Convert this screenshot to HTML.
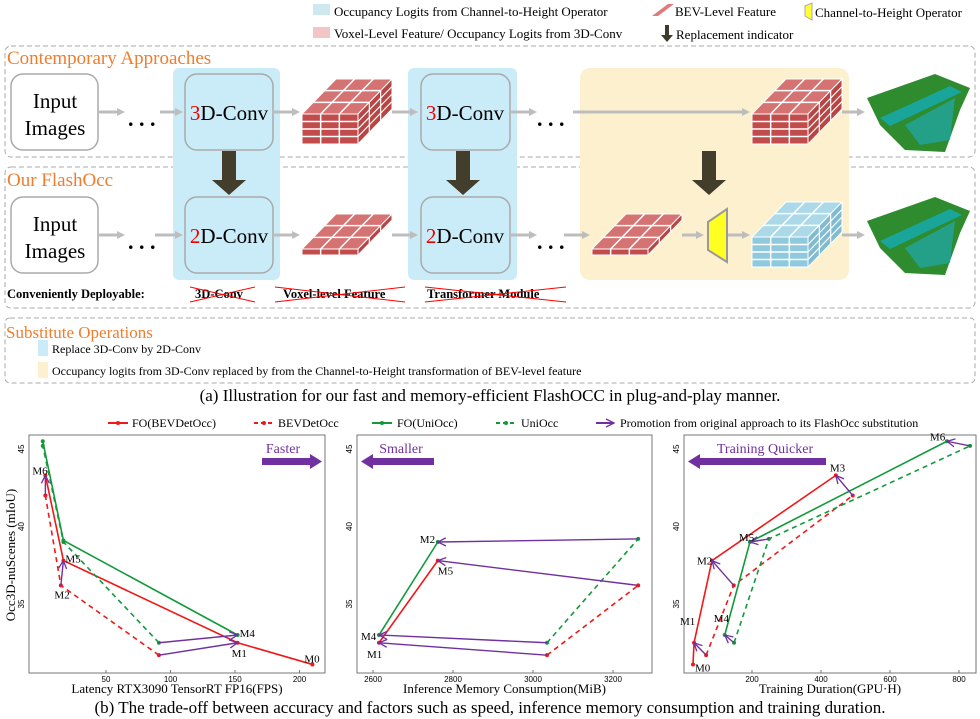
<!DOCTYPE html>
<html><head><meta charset="utf-8"><style>
html,body{margin:0;padding:0;background:#fff}
svg{display:block;font-family:"Liberation Serif",serif}
</style></head><body>
<svg id="root" width="980" height="719" viewBox="0 0 980 719" xmlns="http://www.w3.org/2000/svg">
<defs>
<marker id="gh" markerWidth="8" markerHeight="8" refX="5" refY="4" orient="auto" markerUnits="userSpaceOnUse"><path d="M0,0 L8,4 L0,8 z" fill="#bdbdbd"/></marker>
<marker id="ph" markerWidth="10" markerHeight="10" refX="9" refY="5" orient="auto" markerUnits="userSpaceOnUse"><path d="M1,1 L9,5 L1,9" fill="none" stroke="#7030a0" stroke-width="1.3"/></marker>
</defs>
<g id="diagram">
<!-- top legend -->
<g font-size="13">
<rect x="313" y="4" width="17" height="11" fill="#cfe8ef"/>
<text x="334" y="16">Occupancy Logits from Channel-to-Height Operator</text>
<rect x="313" y="27" width="17" height="11" fill="#f2c6c6"/>
<text x="334" y="38">Voxel-Level Feature/ Occupancy Logits from 3D-Conv</text>
<polygon points="652,16 668,4 674,4 658,16" fill="#e07a7a"/>
<text x="675" y="16">BEV-Level Feature</text>
<polygon points="805,6 812,3 812,20 805,16" fill="#ffff33" stroke="#aaa"/>
<text x="815" y="17">Channel-to-Height Operator</text>
<path d="M665,25 h4 v10 h4 l-6,7 l-6,-7 h4z" fill="#3f3a2a"/>
<text x="676" y="39">Replacement indicator</text>
</g>
<!-- boxes -->
<rect x="5" y="46" width="970" height="111" rx="6" fill="none" stroke="#aaa" stroke-dasharray="5,3"/>
<rect x="5" y="167" width="970" height="141" rx="6" fill="none" stroke="#aaa" stroke-dasharray="5,3"/>
<rect x="173" y="68" width="107" height="212" rx="6" fill="#c9ecf8"/>
<rect x="408" y="68" width="109" height="212" rx="6" fill="#c9ecf8"/>
<rect x="580" y="68" width="269" height="212" rx="10" fill="#fdf0cf"/>
<text x="7" y="64" font-size="19" fill="#f07d2e">Contemporary Approaches</text>
<text x="7" y="186" font-size="19" fill="#f07d2e">Our FlashOcc</text>
<g fill="#fff" stroke="#aaa" stroke-width="1.5">
<rect x="11" y="74" width="87" height="76" rx="12"/>
<rect x="11" y="197" width="87" height="76" rx="12"/>
<rect x="185" y="74" width="88" height="76" rx="12" fill="#c9ecf8"/>
<rect x="185" y="197" width="88" height="76" rx="12" fill="#c9ecf8"/>
<rect x="421" y="74" width="89" height="76" rx="12" fill="#c9ecf8"/>
<rect x="421" y="197" width="89" height="76" rx="12" fill="#c9ecf8"/>
</g>
<g font-size="21" text-anchor="middle">
<text x="55" y="108">Input</text><text x="55" y="135">Images</text>
<text x="55" y="231">Input</text><text x="55" y="258">Images</text>
<text x="229" y="120"><tspan fill="#e00">3</tspan>D-Conv</text>
<text x="229" y="243"><tspan fill="#e00">2</tspan>D-Conv</text>
<text x="465" y="120"><tspan fill="#e00">3</tspan>D-Conv</text>
<text x="465" y="243"><tspan fill="#e00">2</tspan>D-Conv</text>
</g>
<g font-size="22" font-weight="bold">
<text x="128" y="126">. . .</text><text x="128" y="249">. . .</text>
<text x="537" y="126">. . .</text><text x="537" y="249">. . .</text>
</g>
<g stroke="#bdbdbd" stroke-width="3" marker-end="url(#gh)">
<line x1="98" y1="112" x2="122" y2="112"/><line x1="160" y1="112" x2="180" y2="112"/>
<line x1="273" y1="112" x2="297" y2="112"/><line x1="392" y1="112" x2="415" y2="112"/>
<line x1="510" y1="112" x2="534" y2="112"/><line x1="573" y1="112" x2="747" y2="112"/>
<line x1="842" y1="112" x2="862" y2="112"/>
<line x1="98" y1="235" x2="122" y2="235"/><line x1="155" y1="235" x2="180" y2="235"/>
<line x1="273" y1="235" x2="297" y2="235"/><line x1="392" y1="235" x2="415" y2="235"/>
<line x1="510" y1="235" x2="534" y2="235"/><line x1="564" y1="235" x2="587" y2="235"/>
<line x1="682" y1="235" x2="701" y2="235"/><line x1="727" y1="235" x2="747" y2="235"/>
<line x1="842" y1="235" x2="862" y2="235"/>
</g>
<g fill="#433d2c">
<path d="M222,151 h14 v29 h10 l-17,15 l-17,-15 h10z"/>
<path d="M456,151 h14 v29 h10 l-17,15 l-17,-15 h10z"/>
<path d="M702,151 h14 v29 h10 l-17,15 l-17,-15 h10z"/>
</g>
<g id="cubes"></g>
<polygon points="708,222 727,209 727,262 708,250" fill="#ffff22" stroke="#999" stroke-width="2"/>
<g>
<polygon points="867,98 935,74 970,88 960,110 945,152 905,150 880,125" fill="#2e8b2e"/>
<polygon points="880,118 950,86 962,92 890,126" fill="#1aa59a"/>
<polygon points="905,125 955,98 950,140 920,145" fill="#22a5a0" opacity="0.8"/>
</g>
<g>
<polygon points="867,221 935,197 970,211 960,233 945,275 905,273 880,248" fill="#2e8b2e"/>
<polygon points="880,241 950,209 962,215 890,249" fill="#1aa59a"/>
<polygon points="905,248 955,221 950,263 920,268" fill="#22a5a0" opacity="0.8"/>
</g>
<g font-size="12.5" font-weight="bold">
<text x="7" y="298">Conveniently Deployable:</text>
<text x="195" y="298">3D-Conv</text>
<text x="283" y="298">Voxel-level Feature</text>
<text x="427" y="298">Transformer Module</text>
<g stroke="#f00" stroke-width="1">
<line x1="190" y1="287" x2="255" y2="302"/><line x1="190" y1="302" x2="255" y2="287"/>
<line x1="275" y1="302" x2="405" y2="287"/><line x1="275" y1="287" x2="405" y2="302"/>
<line x1="425" y1="287" x2="566" y2="302"/><line x1="425" y1="302" x2="566" y2="287"/>
</g></g>
<rect x="5" y="318" width="970" height="65" rx="5" fill="none" stroke="#aaa" stroke-dasharray="5,3"/>
<text x="6" y="338" font-size="17" fill="#f07d2e">Substitute Operations</text>
<rect x="38" y="340" width="10" height="16" fill="#c9ecf8"/>
<text x="52" y="353" font-size="12">Replace 3D-Conv by 2D-Conv</text>
<rect x="38" y="362" width="10" height="16" fill="#fdf0cf"/>
<text x="52" y="375" font-size="12">Occupancy logits from 3D-Conv replaced by from the Channel-to-Height transformation of BEV-level feature</text>
<text x="490" y="401" font-size="17" text-anchor="middle">(a) Illustration for our fast and memory-efficient FlashOCC in plug-and-play manner.</text>
</g>
<g font-size="12">
<line x1="108" y1="423" x2="128" y2="423" stroke="#f01818" stroke-width="2"/><circle cx="118" cy="423" r="2" fill="#f01818"/><text x="132" y="427">FO(BEVDetOcc)</text>
<line x1="254" y1="423" x2="274" y2="423" stroke="#f01818" stroke-width="2" stroke-dasharray="4,3"/><circle cx="264" cy="423" r="2" fill="#f01818"/><text x="278" y="427">BEVDetOcc</text>
<line x1="372" y1="423" x2="392" y2="423" stroke="#129a3a" stroke-width="2"/><circle cx="382" cy="423" r="2" fill="#129a3a"/><text x="397" y="427">FO(UniOcc)</text>
<line x1="496" y1="423" x2="516" y2="423" stroke="#129a3a" stroke-width="2" stroke-dasharray="4,3"/><circle cx="506" cy="423" r="2" fill="#129a3a"/><text x="521" y="427">UniOcc</text>
<line x1="596" y1="423" x2="614" y2="423" stroke="#7030a0" stroke-width="2" marker-end="url(#ph)"/><text x="620" y="427">Promotion from original approach to its FlashOcc substitution</text>
</g>
<g id="charts"></g>
<text x="490" y="713" font-size="17" text-anchor="middle">(b) The trade-off between accuracy and factors such as speed, inference memory consumption and training duration.</text>
</svg>
<script>
// ---- chart data ----
const yTicks = [35, 40, 45];
// Chart 1: FPS
const c1XTicks = [50, 100, 150, 200];
const c1FoBevX = [210, 152, 17, 3];
const c1FoBevY = [31.1, 32.5, 37.8, 43.3];
const c1BevX = [91, 15, 3];
const c1BevY = [31.7, 36.2, 42.0];
const c1FoUniX = [152, 17, 1];
const c1FoUniY = [33.0, 39.1, 45.5];
const c1UniX = [91, 17, 1];
const c1UniY = [32.5, 39.0, 45.2];
// Chart 2: memory
const c2XTicks = [2600, 2800, 3000, 3200];
const c2FoBevX = [2615, 2762];
const c2FoBevY = [32.5, 37.8];
const c2BevX = [3035, 3263];
const c2BevY = [31.7, 36.2];
const c2FoUniX = [2615, 2762];
const c2FoUniY = [33.0, 39.0];
const c2UniX = [3035, 3263];
const c2UniY = [32.5, 39.2];
// Chart 3: training
const c3XTicks = [200, 400, 600, 800];
const c3FoBevX = [29, 32, 84, 443];
const c3FoBevY = [31.1, 32.5, 37.8, 43.3];
const c3BevX = [67, 147, 492];
const c3BevY = [31.7, 36.2, 42.0];
const c3FoUniX = [121, 194, 765];
const c3FoUniY = [33.0, 39.0, 45.5];
const c3UniX = [148, 249, 832];
const c3UniY = [32.5, 39.2, 45.2];

const NS = "http://www.w3.org/2000/svg";
function mk(tag, attrs, parent){const e=document.createElementNS(NS,tag);for(const k in attrs)e.setAttribute(k,attrs[k]);parent.appendChild(e);return e;}

// cubes
const cg=document.getElementById('cubes');
function cube(x0,yb,W,H,dx,dy,cols,rows,deps,front,top,side,name){
  const g=mk('g',{},cg);
  
  
  const t=yb-H;
  mk('polygon',{points:`${x0},${t} ${x0+W},${t} ${x0+W+dx},${t+dy} ${x0+dx},${t+dy}`,fill:top,stroke:'#fff','stroke-width':1},g);
  mk('rect',{x:x0,y:t,width:W,height:H,fill:front,stroke:'#fff','stroke-width':1},g);
  mk('polygon',{points:`${x0+W},${yb} ${x0+W},${t} ${x0+W+dx},${t+dy} ${x0+W+dx},${yb+dy}`,fill:side,stroke:'#fff','stroke-width':1},g);
  for(let i=1;i<cols;i++){const x=x0+W*i/cols;mk('line',{x1:x,y1:yb,x2:x,y2:t,stroke:'#fff','stroke-width':1.5},g);mk('line',{x1:x,y1:t,x2:x+dx,y2:t+dy,stroke:'#fff','stroke-width':1.5},g);}
  for(let j=1;j<rows;j++){const y=t+H*j/rows;mk('line',{x1:x0,y1:y,x2:x0+W,y2:y,stroke:'#fff','stroke-width':1.5},g);mk('line',{x1:x0+W,y1:y,x2:x0+W+dx,y2:y+dy,stroke:'#fff','stroke-width':1.2},g);}
  for(let k=1;k<deps;k++){const ox=dx*k/deps,oy=dy*k/deps;mk('line',{x1:x0+ox,y1:t+oy,x2:x0+W+ox,y2:t+oy,stroke:'#fff','stroke-width':1.5},g);mk('line',{x1:x0+W+ox,y1:t+oy,x2:x0+W+ox,y2:yb+oy,stroke:'#fff','stroke-width':1.2},g);}
}
cube(302,144,56,30,34,-35,3,4,3,'#c24b4b','#d57272','#b84444','voxel-feature-cube-1');
cube(302,255,56,6,34,-35,3,1,3,'#c24b4b','#d57272','#b84444','bev-feature-plate-1');
cube(752,144,56,30,34,-35,3,4,3,'#c24b4b','#d57272','#b84444','voxel-feature-cube-2');
cube(592,255,56,6,34,-35,3,1,3,'#c24b4b','#d57272','#b84444','bev-feature-plate-2');
cube(752,267,56,30,34,-35,3,4,3,'#8ec9dd','#acd9e8','#7fbcd2','occupancy-logits-cube');

// charts
const charts=document.getElementById('charts');
const yScale=v=>449+(45-v)*15.5;
const RED='#f01818', GREEN='#129a3a', PURPLE='#7030a0';
function drawChart(cfg){
  const g=mk('g',{},charts);
  
  
  mk('rect',{x:cfg.left,y:435,width:cfg.right-cfg.left,height:238,fill:'none',stroke:'#777','stroke-width':1},g);
  cfg.xt.forEach(v=>{const x=cfg.xs(v);
    const t=mk('text',{x:x,y:682,'font-size':8,'text-anchor':'middle','font-family':'Liberation Sans, sans-serif'},g);t.textContent=v;
    
    
    mk('line',{x1:x,y1:673,x2:x,y2:670,stroke:'#777'},g);});
  yTicks.forEach(v=>{const y=yScale(v);
    const t=mk('text',{x:0,y:0,'font-size':8,'text-anchor':'middle','font-family':'Liberation Sans, sans-serif',transform:`translate(${cfg.left-5},${y}) rotate(-90)`},g);t.textContent=v;
    
    });
  const series=[[cfg.fbx,cfg.fby,RED,''],[cfg.bx,cfg.by,RED,'5,4'],[cfg.fux,cfg.fuy,GREEN,''],[cfg.ux,cfg.uy,GREEN,'5,4']];
  const names=['series-fo-bevdetocc','series-bevdetocc','series-fo-uniocc','series-uniocc'];
  series.forEach((s,i)=>{
    const pts=s[0].map((v,k)=>cfg.xs(v)+','+yScale(s[1][k])).join(' ');
    const pl=mk('polyline',{points:pts,fill:'none',stroke:s[2],'stroke-width':1.6,'stroke-dasharray':s[3]||'none'},g);
    
    
    s[0].forEach((v,k)=>{const c=mk('circle',{cx:cfg.xs(v),cy:yScale(s[1][k]),r:2,fill:s[2]},g);
      
      });
  });
  cfg.arrows.forEach(a=>{
    const from=a[0]==='r'?[cfg.bx,cfg.by]:[cfg.ux,cfg.uy];
    const to=a[0]==='r'?[cfg.fbx,cfg.fby]:[cfg.fux,cfg.fuy];
    const x1=cfg.xs(from[0][a[1]]),y1=yScale(from[1][a[1]]),x2=cfg.xs(to[0][a[2]]),y2=yScale(to[1][a[2]]);
    const ln=mk('line',{x1:x1,y1:y1,x2:x2,y2:y2,stroke:PURPLE,'stroke-width':1.4,'marker-end':'url(#ph)'},g);
    
    
  });
  cfg.labels.forEach(l=>{
    const src={r:[cfg.fbx,cfg.fby],g:[cfg.fux,cfg.fuy]}[l[1]];
    const t=mk('text',{x:cfg.xs(src[0][l[2]])+l[3],y:yScale(src[1][l[2]])+l[4],'font-size':11},g);t.textContent=l[0];
    
    
  });
  const xt=mk('text',{x:(cfg.left+cfg.right)/2,y:693,'font-size':13,'text-anchor':'middle'},g);xt.textContent=cfg.xtitle;
  
  
  const dt=mk('text',{x:cfg.dirX,y:453,'font-size':14,fill:PURPLE,'text-anchor':'middle'},g);dt.textContent=cfg.dirText;
  
  
  const a=cfg.dirArrow, sgn=a[1]>a[0]?1:-1;
  const ar=mk('path',{d:`M${a[0]},458 L${a[1]-sgn*12},458 L${a[1]-sgn*12},454 L${a[1]},461.5 L${a[1]-sgn*12},469 L${a[1]-sgn*12},465 L${a[0]},465 Z`,fill:PURPLE},g);
  
  
}
drawChart({name:'chart-fps',left:29,right:325,xs:v=>41.5+v*1.29,xt:c1XTicks,
  fbx:c1FoBevX,fby:c1FoBevY,bx:c1BevX,by:c1BevY,fux:c1FoUniX,fuy:c1FoUniY,ux:c1UniX,uy:c1UniY,
  arrows:[['r',0,1],['r',1,2],['r',2,3],['g',0,0]],
  labels:[['M0','r',0,-8,-2],['M1','r',1,-6,14],['M4','g',0,2,2],['M5','r',2,2,2],['M6','r',3,-13,-1],['M2','g',1,-9,58]],
  xtitle:'Latency RTX3090 TensorRT FP16(FPS)',dirText:'Faster',dirX:283,dirArrow:[262,322]});
drawChart({name:'chart-memory',left:357,right:652,xs:v=>373+(v-2600)*0.4,xt:c2XTicks,
  fbx:c2FoBevX,fby:c2FoBevY,bx:c2BevX,by:c2BevY,fux:c2FoUniX,fuy:c2FoUniY,ux:c2UniX,uy:c2UniY,
  arrows:[['r',0,0],['r',1,1],['g',0,0],['g',1,1]],
  labels:[['M1','r',0,-12,15],['M4','g',0,-18,5],['M2','g',1,-18,1],['M5','r',1,0,14]],
  xtitle:'Inference Memory Consumption(MiB)',dirText:'Smaller',dirX:401,dirArrow:[434,361]});
drawChart({name:'chart-training',left:684,right:976,xs:v=>752+(v-200)*0.345,xt:c3XTicks,
  fbx:c3FoBevX,fby:c3FoBevY,bx:c3BevX,by:c3BevY,fux:c3FoUniX,fuy:c3FoUniY,ux:c3UniX,uy:c3UniY,
  arrows:[['r',0,1],['r',1,2],['r',2,3],['g',0,0],['g',1,1],['g',2,2]],
  labels:[['M0','r',0,2,7],['M1','r',1,-14,-18],['M2','r',2,-15,4],['M3','r',3,-6,-4],['M4','g',0,-11,-13],['M5','g',1,-11,-1],['M6','g',2,-17,-1]],
  xtitle:'Training Duration(GPU·H)',dirText:'Training Quicker',dirX:765,dirArrow:[826,688]});
const yl=document.createElementNS(NS,'text');
yl.setAttribute('transform','translate(15,555) rotate(-90)');
yl.setAttribute('font-size','13');yl.setAttribute('text-anchor','middle');
yl.textContent='Occ3D-nuScenes (mIoU)';


charts.appendChild(yl);
</script>
</body></html>
